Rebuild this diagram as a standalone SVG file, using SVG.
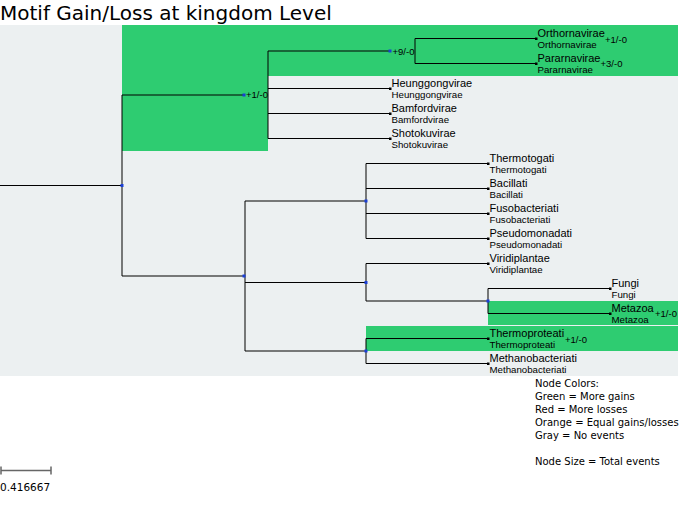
<svg xmlns="http://www.w3.org/2000/svg" width="679" height="518" viewBox="0 0 679 518">
<style>
.bg{fill:#ecf0f1}
.gr{fill:#2ecc71}
.th{stroke:#000;stroke-opacity:0.5;stroke-width:2;fill:none}
.tn{stroke:#000;stroke-width:1;fill:none}
.big{font-family:"Liberation Sans",Arial,sans-serif;font-size:11px;fill:#000}
.sm{font-family:"Liberation Sans",Arial,sans-serif;font-size:9.7px;fill:#000}
.ev{font-family:"Liberation Sans",Arial,sans-serif;font-size:9.5px;fill:#000}
.dj{font-family:"DejaVu Sans",Verdana,sans-serif;fill:#000}
.nd{fill:#1a3fd6}
.lf{fill:#000}
</style>
<rect width="679" height="518" fill="#fff"/>
<text class="dj" x="0" y="20" font-size="20">Motif Gain/Loss at kingdom Level</text>
<g id="backgrounds">
<rect class="bg" x="0" y="25" width="678" height="351"/>
<rect class="gr" x="122" y="25" width="146" height="126"/>
<rect class="gr" x="268" y="25" width="410" height="51"/>
<rect class="gr" x="488" y="301" width="190" height="24"/>
<rect class="gr" x="366" y="326" width="312" height="25"/>
</g>
<g id="connectors">
<path class="tn" d="M0 185.5H122"/>
<path class="th" d="M122 95V276"/>
<path class="th" d="M122 95H244"/>
<path class="th" d="M268 51V138.5"/>
<path class="th" d="M268 51H390"/>
<path class="th" d="M415 38.5V63.5"/>
<path class="tn" d="M415 38.5H536M415 63.5H536"/>
<path class="tn" d="M268 88.5H390M268 113.5H390M268 138.5H390"/>
<path class="th" d="M122 276H245"/>
<path class="th" d="M245 201V351"/>
<path class="th" d="M245 201H366"/>
<path class="th" d="M366 163.5V238.5"/>
<path class="tn" d="M366 163.5H488M366 188.5H488M366 213.5H488M366 238.5H488"/>
<path class="tn" d="M245 282.5H366"/>
<path class="th" d="M366 263.5V301"/>
<path class="tn" d="M366 263.5H488"/>
<path class="th" d="M366 301H488"/>
<path class="th" d="M488 288.5V313.5"/>
<path class="tn" d="M488 288.5H610M488 313.5H610"/>
<path class="th" d="M245 351H366"/>
<path class="th" d="M366 338.5V363.5"/>
<path class="tn" d="M366 338.5H488M366 363.5H488"/>
</g>
<g id="n-root"><rect class="nd" x="120.5" y="184" width="3" height="3"/></g>
<g id="n-ribo-parent"><rect class="nd" x="242.5" y="93.5" width="3" height="3"/><text class="ev" x="246" y="98">+1/-0</text></g>
<g id="n-riboviria"><rect class="nd" x="388.5" y="49.5" width="3" height="3"/><text class="ev" x="392.5" y="54.5">+9/-0</text></g>
<g id="n-lower"><rect class="nd" x="242.5" y="274.5" width="3" height="3"/></g>
<g id="n-bacteria"><rect class="nd" x="364.5" y="199.5" width="3" height="3"/></g>
<g id="n-euk"><rect class="nd" x="364.5" y="281" width="3" height="3"/></g>
<g id="n-opisth"><rect class="nd" x="486.5" y="299.5" width="3" height="3"/></g>
<g id="n-archaea"><rect class="nd" x="364.5" y="349.5" width="3" height="3"/></g>
<g id="leaf-orthornavirae"><rect class="lf" x="535" y="37.5" width="2.5" height="2.5"/><text class="big" x="537.5" y="36.5">Orthornavirae</text><text class="sm" x="537.5" y="47.5">Orthornavirae</text><text class="ev" x="605" y="42.5">+1/-0</text></g>
<g id="leaf-pararnavirae"><rect class="lf" x="535" y="62.5" width="2.5" height="2.5"/><text class="big" x="537.5" y="61.5">Pararnavirae</text><text class="sm" x="537.5" y="72.5">Pararnavirae</text><text class="ev" x="600.5" y="67">+3/-0</text></g>
<g id="leaf-heunggongvirae"><rect class="lf" x="389" y="87.5" width="2.5" height="2.5"/><text class="big" x="391.5" y="86.5">Heunggongvirae</text><text class="sm" x="391.5" y="97.5">Heunggongvirae</text></g>
<g id="leaf-bamfordvirae"><rect class="lf" x="389" y="112.5" width="2.5" height="2.5"/><text class="big" x="391.5" y="111.5">Bamfordvirae</text><text class="sm" x="391.5" y="122.5">Bamfordvirae</text></g>
<g id="leaf-shotokuvirae"><rect class="lf" x="389" y="137.5" width="2.5" height="2.5"/><text class="big" x="391.5" y="136.5">Shotokuvirae</text><text class="sm" x="391.5" y="147.5">Shotokuvirae</text></g>
<g id="leaf-thermotogati"><rect class="lf" x="487" y="162.5" width="2.5" height="2.5"/><text class="big" x="489.5" y="161.5">Thermotogati</text><text class="sm" x="489.5" y="172.5">Thermotogati</text></g>
<g id="leaf-bacillati"><rect class="lf" x="487" y="187.5" width="2.5" height="2.5"/><text class="big" x="489.5" y="186.5">Bacillati</text><text class="sm" x="489.5" y="197.5">Bacillati</text></g>
<g id="leaf-fusobacteriati"><rect class="lf" x="487" y="212.5" width="2.5" height="2.5"/><text class="big" x="489.5" y="211.5">Fusobacteriati</text><text class="sm" x="489.5" y="222.5">Fusobacteriati</text></g>
<g id="leaf-pseudomonadati"><rect class="lf" x="487" y="237.5" width="2.5" height="2.5"/><text class="big" x="489.5" y="236.5">Pseudomonadati</text><text class="sm" x="489.5" y="247.5">Pseudomonadati</text></g>
<g id="leaf-viridiplantae"><rect class="lf" x="487" y="262.5" width="2.5" height="2.5"/><text class="big" x="489.5" y="261.5">Viridiplantae</text><text class="sm" x="489.5" y="272.5">Viridiplantae</text></g>
<g id="leaf-fungi"><rect class="lf" x="609" y="287.5" width="2.5" height="2.5"/><text class="big" x="611.5" y="286.5">Fungi</text><text class="sm" x="611.5" y="297.5">Fungi</text></g>
<g id="leaf-metazoa"><rect class="lf" x="609" y="312.5" width="2.5" height="2.5"/><text class="big" x="611.5" y="311.5">Metazoa</text><text class="sm" x="611.5" y="322.5">Metazoa</text><text class="ev" x="655" y="317">+1/-0</text></g>
<g id="leaf-thermoproteati"><rect class="lf" x="487" y="337.5" width="2.5" height="2.5"/><text class="big" x="489.5" y="336.5">Thermoproteati</text><text class="sm" x="489.5" y="347.5">Thermoproteati</text><text class="ev" x="565" y="343">+1/-0</text></g>
<g id="leaf-methanobacteriati"><rect class="lf" x="487" y="362.5" width="2.5" height="2.5"/><text class="big" x="489.5" y="361.5">Methanobacteriati</text><text class="sm" x="489.5" y="372.5">Methanobacteriati</text></g>
<g id="legend" class="dj" font-size="10">
<text x="535" y="386.5">Node Colors:</text>
<text x="535" y="399.5">Green = More gains</text>
<text x="535" y="412.5">Red = More losses</text>
<text x="535" y="425.5">Orange = Equal gains/losses</text>
<text x="535" y="438.5">Gray = No events</text>
<text x="535" y="464.5">Node Size = Total events</text>
</g>
<g id="scale">
<path d="M1 470.5H51M1 466.5V474.5M51 466.5V474.5" stroke="#666" stroke-width="1.5" fill="none"/>
<text class="dj" x="0" y="490.5" font-size="10.5">0.416667</text>
</g>
</svg>
